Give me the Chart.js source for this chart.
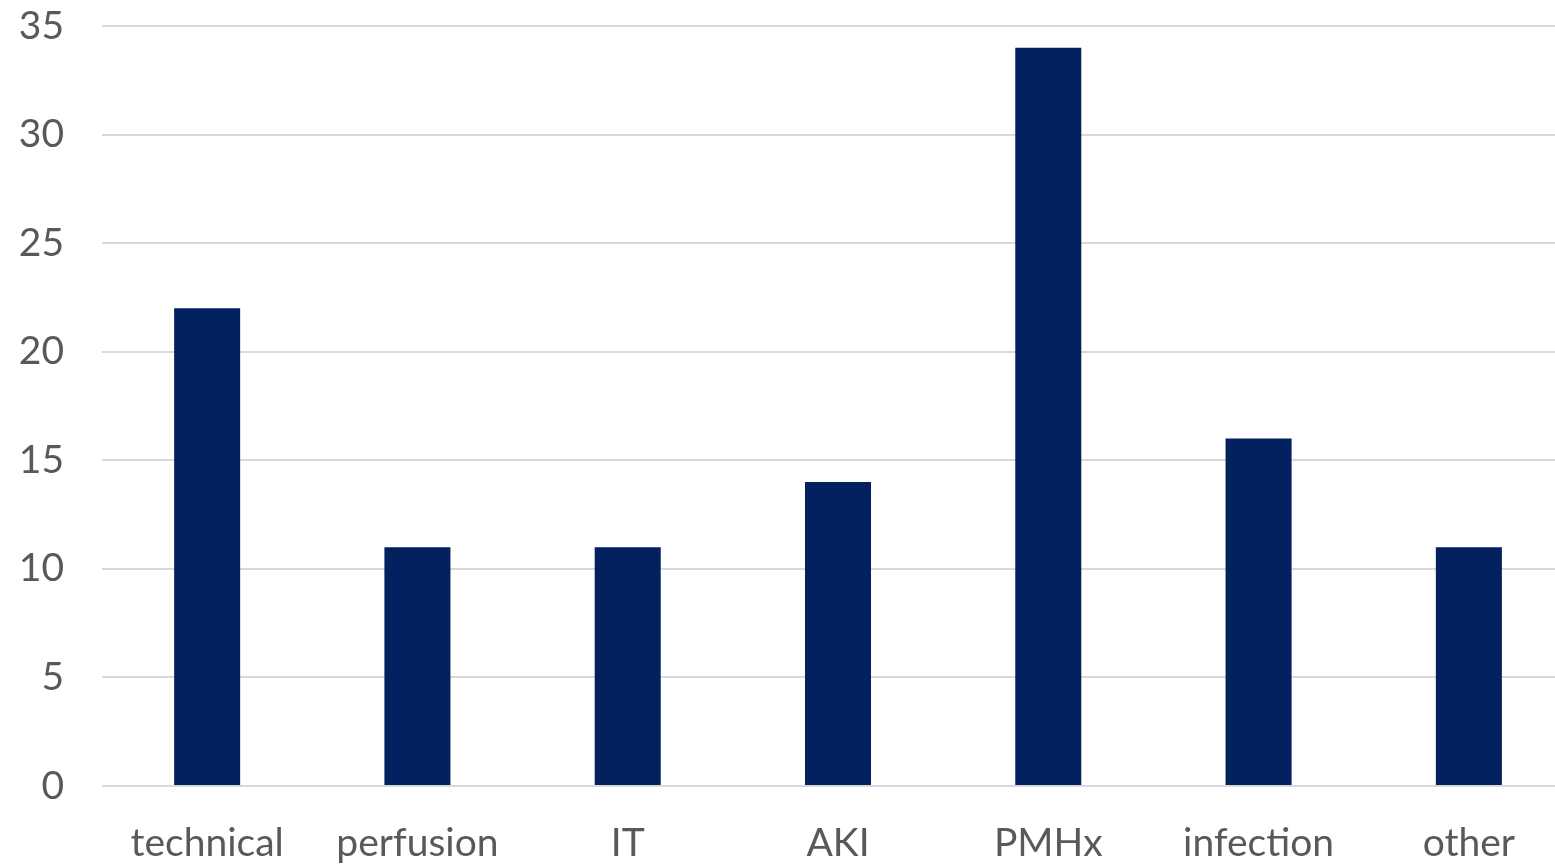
<!DOCTYPE html>
<html>
<head>
<meta charset="utf-8">
<script src="https://cdn.jsdelivr.net/npm/chart.js@4/dist/chart.umd.min.js"></script>
<style>
html,body{margin:0;padding:0;background:#fff;overflow:hidden;}
#wrap{width:1555px;height:865px;position:relative;overflow:hidden;}
</style>
</head>
<body>
<div id="wrap"><canvas id="c" width="1574" height="865"></canvas></div>
<script>
const categories = ["technical", "perfusion", "IT", "AKI", "PMHx", "infection", "other"];
const values = [22, 11, 11, 14, 34, 16, 11];
const yTicks = [0, 5, 10, 15, 20, 25, 30, 35];

const textColor = '#595959';
const fontFamily = 'Lato, "Open Sans", sans-serif';

new Chart(document.getElementById('c'), {
  type: 'bar',
  data: {
    labels: categories,
    datasets: [{
      data: values,
      backgroundColor: '#03205f',
      borderWidth: 0,
      categoryPercentage: 1,
      barPercentage: 0.314
    }]
  },
  options: {
    responsive: false,
    animation: false,
    devicePixelRatio: 1,
    layout: { padding: { top: 26, right: 0, left: 0, bottom: 0 } },
    plugins: { legend: { display: false }, tooltip: { enabled: false } },
    scales: {
      x: {
        grid: { display: false },
        border: { display: false },
        ticks: { color: textColor, font: { family: fontFamily, size: 39 }, padding: 26, maxRotation: 0 },
        afterFit: s => { s.height = 79; s.paddingLeft = 0; s.paddingRight = 0; }
      },
      y: {
        min: 0, max: 35,
        afterBuildTicks: s => { s.ticks = yTicks.map(v => ({ value: v })); },
        grid: { color: '#d9d9d9', lineWidth: 2, drawTicks: false },
        border: { display: false },
        ticks: { color: textColor, font: { family: fontFamily, size: 39 }, padding: 38 },
        afterFit: s => { s.width = 102; s.paddingTop = 0; s.paddingBottom = 0; }
      }
    }
  }
});
</script>
</body>
</html>
